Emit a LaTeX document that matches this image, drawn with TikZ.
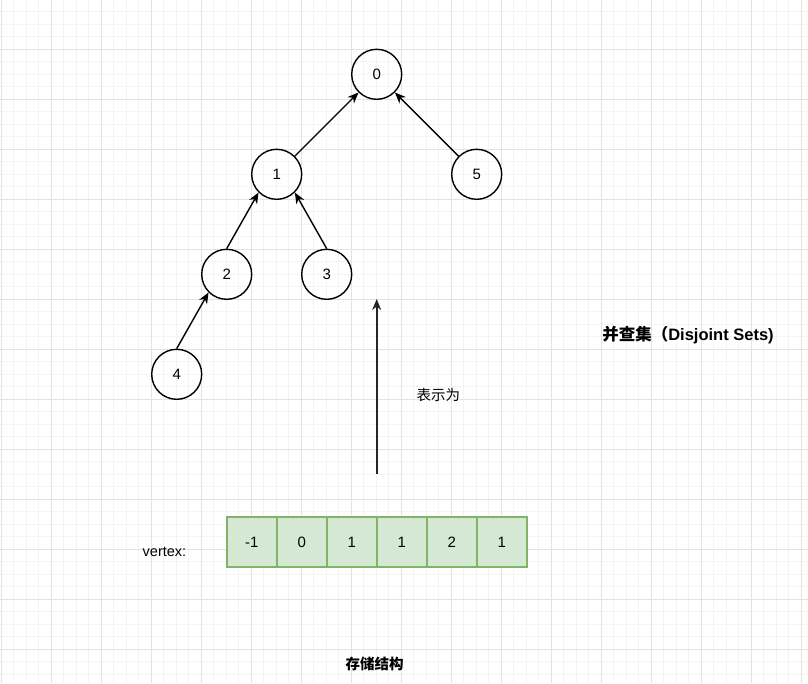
\documentclass[tikz,border=0pt]{standalone}
\usepackage{fontspec}
\setmainfont{Liberation Sans}
\newfontfamily\cjk{Noto Sans CJK SC}
\usetikzlibrary{arrows.meta}
\definecolor{minorgrid}{HTML}{F4F4F4}
\definecolor{majorgrid}{HTML}{E3E3E3}
\definecolor{cellfill}{HTML}{D5E8D4}
\definecolor{cellline}{HTML}{82B366}
\tikzset{
  vtx/.style={circle, draw=black, line width=1.4pt, minimum size=50pt, inner sep=0pt, font=\fontsize{15}{16}\selectfont},
  cell/.style={rectangle, draw=cellline, fill=cellfill, line width=1.6pt, minimum width=50pt, minimum height=50pt, inner sep=0pt, font=\fontsize{15}{16}\selectfont},
  link/.style={line width=1.4pt, -{Stealth[length=11pt,width=9pt,inset=3.5pt]}},
  biglink/.style={line width=1.6pt, draw=black!85, -{Stealth[length=11pt,width=9pt,inset=3.5pt]}},
  lbl/.style={font=\fontsize{14.5}{16}\selectfont, inner sep=0pt},
}
\begin{document}
\begin{tikzpicture}[x=1pt, y=-1pt]
\useasboundingbox (0,0) rectangle (808,683);
\fill[white] (0,0) rectangle (808,683);
% grid
\foreach \i in {0,...,65} {
  \draw[minorgrid, line width=1pt] ({1.3+12.5*\i},0) -- ({1.3+12.5*\i},683);
}
\foreach \j in {0,...,55} {
  \draw[minorgrid, line width=1pt] (0,{-0.7+12.5*\j}) -- (808,{-0.7+12.5*\j});
}
\foreach \i in {0,...,16} {
  \draw[majorgrid, line width=1pt] ({1.3+50*\i},0) -- ({1.3+50*\i},683);
}
\foreach \j in {0,...,14} {
  \draw[majorgrid, line width=1pt] (0,{-0.7+50*\j}) -- (808,{-0.7+50*\j});
}
% tree
\node[vtx] (n0) at (376.7,74.3) {0};
\node[vtx] (n1) at (276.7,174.3) {1};
\node[vtx] (n5) at (476.7,174.3) {5};
\node[vtx] (n2) at (226.7,274.3) {2};
\node[vtx] (n3) at (326.7,274.3) {3};
\node[vtx] (n4) at (176.7,374.3) {4};
\draw[link] (n1.45) -- (n0.225);
\draw[link] (n5.135) -- (n0.315);
\draw[link] (n2.north) -- (n1.225);
\draw[link] (n3.north) -- (n1.315);
\draw[link] (n4.north) -- (n2.225);
% big arrow
\coordinate (abot) at (376.7,474);
\coordinate (atop) at (376.7,299);
\draw[biglink] (abot) -- (atop);
\node[lbl] (rep) at (438.3,395) {\cjk 表示为};
% title
\node[lbl, font=\fontsize{16.5}{18}\selectfont] (title) at (688,335) {\cjk\bfseries 并查集（\normalfont\bfseries Disjoint Sets)};
% array
\node[lbl] (vlabel) at (164.5,552) {vertex:};
\node[cell] (c0) at (251.7,541.9) {-1};
\node[cell] (c1) at (301.7,541.9) {0};
\node[cell] (c2) at (351.7,541.9) {1};
\node[cell] (c3) at (401.7,541.9) {1};
\node[cell] (c4) at (451.7,541.9) {2};
\node[cell] (c5) at (501.7,541.9) {1};
\node[lbl] (store) at (374.5,664) {\cjk\bfseries 存储结构};
\end{tikzpicture}
\end{document}
